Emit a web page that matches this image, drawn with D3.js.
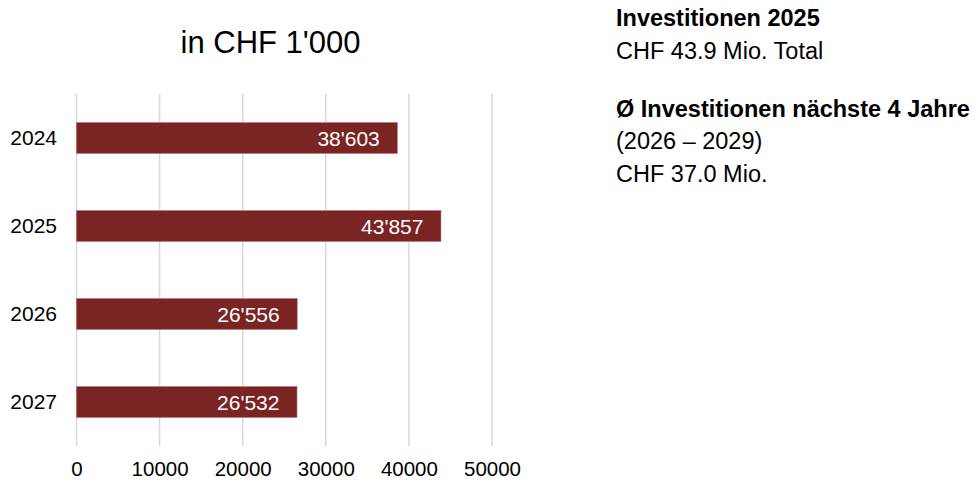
<!DOCTYPE html>
<html>
<head>
<meta charset="utf-8">
<script src="https://cdn.jsdelivr.net/npm/d3@7"></script>
<style>
  body { margin: 0; background: #fff; font-family: "Liberation Sans", Arial, sans-serif; }
</style>
</head>
<body>
<div id="chart"></div>
<script>
// data
const years = ["2024", "2025", "2026", "2027"];
const values = [38603, 43857, 26556, 26532];
const xTicks = [0, 10000, 20000, 30000, 40000, 50000];
const title = "in CHF 1'000";
const notes = [
    {text: "Investitionen 2025", bold: true, y: 26},
    {text: "CHF 43.9 Mio. Total", bold: false, y: 59},
    {text: "Ø Investitionen nächste 4 Jahre", bold: true, y: 116.5},
    {text: "(2026 – 2029)", bold: false, y: 149},
    {text: "CHF 37.0 Mio.", bold: false, y: 181.5}
];

const W = 980, H = 481;
const margin = {top: 94, left: 76.5};
const plotW = 492 - margin.left;
const plotH = 446 - margin.top;
const barColor = "#7a2424";
const font = "Liberation Sans, Arial, sans-serif";

const svg = d3.select("#chart").append("svg")
    .attr("width", W)
    .attr("height", H)
    .attr("font-family", font);

const g = svg.append("g")
    .attr("transform", "translate(" + margin.left + "," + margin.top + ")");

const xScale = d3.scaleLinear().domain([0, 50000]).range([0, plotW]);
const yScale = d3.scaleBand().domain(years).range([0, plotH]).paddingInner(0.65).paddingOuter(0.325);

// gridlines
g.selectAll(".grid")
    .data(xTicks)
    .join("line")
    .attr("class", "grid")
    .attr("x1", d => xScale(d))
    .attr("x2", d => xScale(d))
    .attr("y1", 0)
    .attr("y2", plotH)
    .attr("stroke", "#d9d9d9")
    .attr("stroke-width", 1.5);

// x axis labels
const xAxis = g.append("g")
    .attr("transform", "translate(0," + plotH + ")")
    .call(d3.axisBottom(xScale).tickValues(xTicks).tickFormat(d3.format("d")).tickSize(0).tickPadding(15));
xAxis.select(".domain").remove();
xAxis.selectAll("text")
    .attr("font-family", font)
    .attr("font-size", 20.5)
    .attr("fill", "#000");

// y axis labels
const yAxis = g.append("g")
    .call(d3.axisLeft(yScale).tickSize(0).tickPadding(19.5));
yAxis.select(".domain").remove();
yAxis.selectAll("text")
    .attr("font-family", font)
    .attr("font-size", 21)
    .attr("fill", "#000");

// bars
const fmt = v => d3.format(",")(v).replace(/,/g, "'");
const rows = years.map((y, i) => ({year: y, value: values[i]}));

g.selectAll(".bar")
    .data(rows)
    .join("rect")
    .attr("class", "bar")
    .attr("x", xScale(0))
    .attr("y", d => yScale(d.year))
    .attr("width", d => xScale(d.value) - xScale(0))
    .attr("height", yScale.bandwidth())
    .attr("fill", barColor)
    .attr("stroke", "#b06a6a")
    .attr("stroke-width", 0.6);

g.selectAll(".barLabel")
    .data(rows)
    .join("text")
    .attr("class", "barLabel")
    .attr("x", d => xScale(d.value) - 17.5)
    .attr("y", d => yScale(d.year) + yScale.bandwidth() / 2)
    .attr("dy", "0.36em")
    .attr("text-anchor", "end")
    .attr("font-size", 21)
    .attr("fill", "#fff")
    .text(d => fmt(d.value));

// title
svg.append("text")
    .attr("x", 270.5)
    .attr("y", 53)
    .attr("text-anchor", "middle")
    .attr("font-size", 31)
    .attr("fill", "#000")
    .text(title);

// side notes
svg.append("g")
    .selectAll("text")
    .data(notes)
    .join("text")
    .attr("x", 616)
    .attr("y", d => d.y)
    .attr("font-size", 23.5)
    .attr("font-weight", d => d.bold ? "bold" : "normal")
    .attr("fill", "#000")
    .text(d => d.text);
</script>
</body>
</html>
